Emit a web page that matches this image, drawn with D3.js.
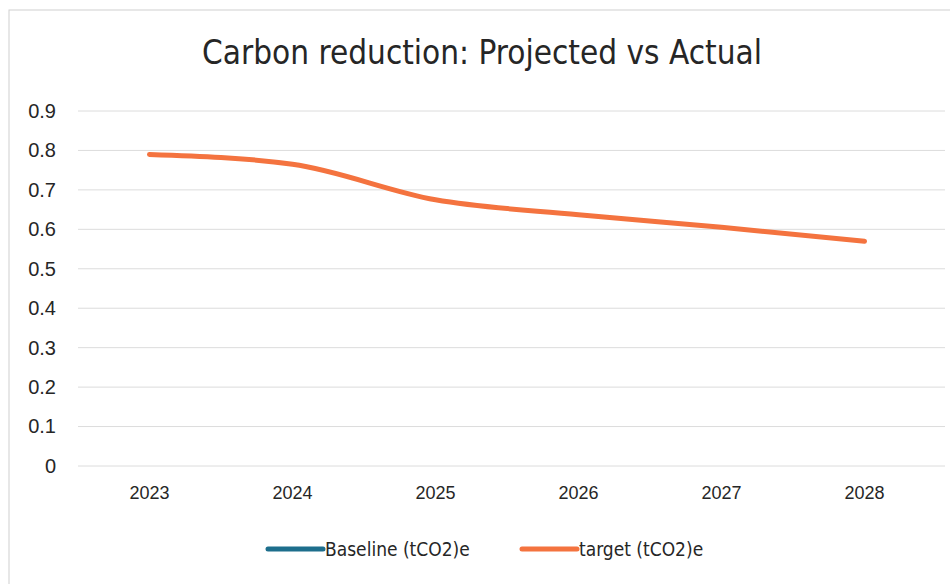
<!DOCTYPE html>
<html>
<head>
<meta charset="utf-8">
<script src="https://cdn.jsdelivr.net/npm/d3@7"></script>
<style>
  body { margin:0; background:#fff; }
  svg { display:block; }
</style>
</head>
<body>
<svg id="chart" width="950" height="584"></svg>
<script>
// chart data
var years = ["2023","2024","2025","2026","2027","2028"];
var target = [0.79, 0.765, 0.675, 0.637, 0.605, 0.57];
var baseline = [];   // no values plotted, legend only
var yTicks = [0, 0.1, 0.2, 0.3, 0.4, 0.5, 0.6, 0.7, 0.8, 0.9];
var seriesNames = ["Baseline (tCO2)e", "target (tCO2)e"];
var seriesColors = ["#1d6e8c", "#f4733f"];

var svg = d3.select("#chart");
var plotLeft = 78, plotRight = 936, plotTop = 111, plotBottom = 466;

// faint frame of the chart area
svg.append("rect")
  .attr("x", 9).attr("y", 10)
  .attr("width", 980).attr("height", 600)
  .attr("fill", "none")
  .attr("stroke", "#cfcfcf")
  .attr("stroke-width", 1);

svg.append("text")
  .attr("x", 482).attr("y", 64)
  .attr("text-anchor", "middle")
  .style("font-family", "'Liberation Sans Narrow','DejaVu Sans Condensed',sans-serif")
  .style("font-size", "33px")
  .attr("fill", "#262626")
  .text("Carbon reduction: Projected vs Actual");

var x = d3.scaleBand().domain(years).range([plotLeft, plotRight]);
var y = d3.scaleLinear().domain([0, 0.9]).range([plotBottom, plotTop]);

// gridlines
svg.append("g")
  .selectAll("line")
  .data(yTicks).enter()
  .append("line")
  .attr("x1", plotLeft).attr("x2", 945)
  .attr("y1", function(d){ return y(d); })
  .attr("y2", function(d){ return y(d); })
  .attr("stroke", "#dcdcdc")
  .attr("stroke-width", 1);

// y axis labels
var yAxis = d3.axisLeft(y).tickValues(yTicks).tickSize(0).tickPadding(0)
  .tickFormat(function(d){ return d === 0 ? "0" : d3.format(".1f")(d); });
svg.append("g")
  .attr("transform", "translate(56,0)")
  .call(yAxis)
  .call(function(g){ g.select(".domain").remove(); })
  .selectAll("text")
  .style("font-family", "'Liberation Sans',Arial,sans-serif")
  .style("font-size", "20px")
  .attr("fill", "#262626");

// x axis labels
var xAxis = d3.axisBottom(x).tickSize(0).tickPadding(0);
svg.append("g")
  .attr("transform", "translate(0,486)")
  .call(xAxis)
  .call(function(g){ g.select(".domain").remove(); })
  .selectAll("text")
  .style("font-family", "'Liberation Sans',Arial,sans-serif")
  .style("font-size", "18px")
  .attr("fill", "#262626");

var line = d3.line()
  .x(function(d, i){ return x(years[i]) + x.bandwidth() / 2; })
  .y(function(d){ return y(d); })
  .curve(d3.curveMonotoneX);

svg.append("path")
  .datum(target)
  .attr("d", line)
  .attr("fill", "none")
  .attr("stroke", seriesColors[1])
  .attr("stroke-width", 5)
  .attr("stroke-linecap", "round")
  .attr("stroke-linejoin", "round");

// legend
var legendX = [268, 522];
var lg = svg.append("g");
seriesNames.forEach(function(name, i) {
  lg.append("line")
    .attr("x1", legendX[i]).attr("x2", legendX[i] + 55)
    .attr("y1", 549).attr("y2", 549)
    .attr("stroke", seriesColors[i])
    .attr("stroke-width", 5)
    .attr("stroke-linecap", "round");
  lg.append("text")
    .attr("x", legendX[i] + 57).attr("y", 556)
    .style("font-family", "'Liberation Sans Narrow','DejaVu Sans Condensed',sans-serif")
    .style("font-size", "19px")
    .attr("fill", "#262626")
    .text(name);
});
</script>
</body>
</html>
